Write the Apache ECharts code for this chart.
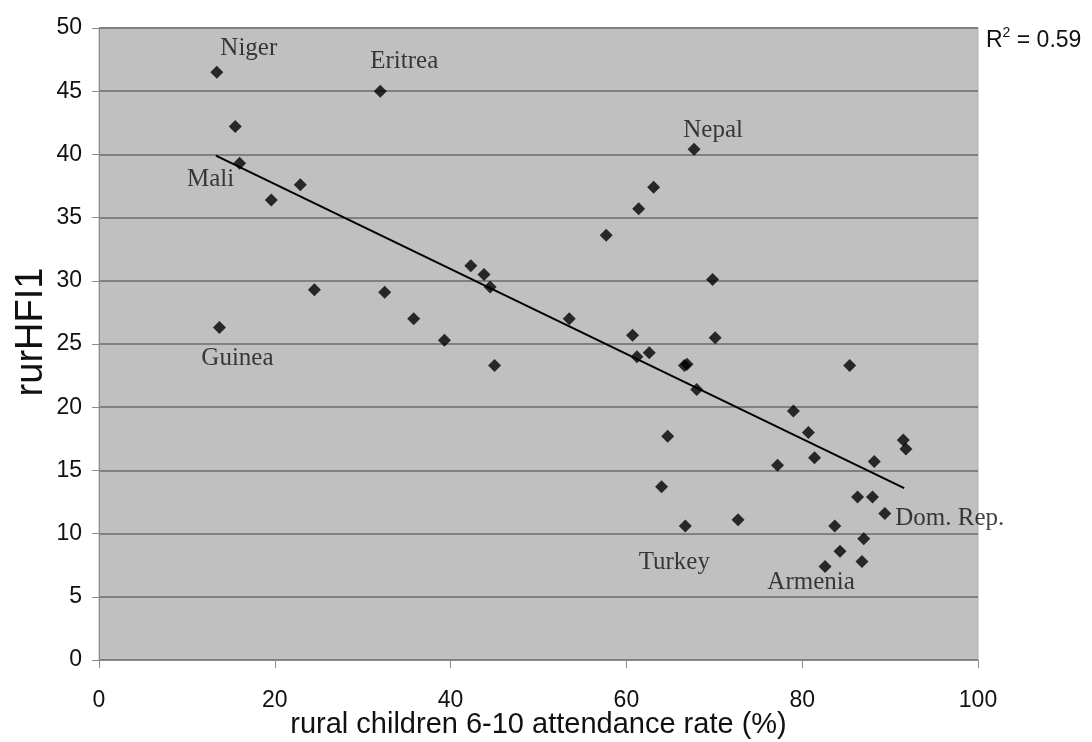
<!DOCTYPE html>
<html>
<head>
<meta charset="utf-8">
<script src="https://cdn.jsdelivr.net/npm/echarts@6/dist/echarts.min.js"></script>
<style>
html,body{margin:0;padding:0;background:#fff;}
#chart{width:1092px;height:742px;}
</style>
</head>
<body>
<div id="chart"></div>
<script>
// Data
const attendance = [13.4, 15.5, 16.0, 19.6, 22.9, 13.7, 24.5, 32.0, 32.5, 35.8, 39.3, 42.3, 43.8, 44.5, 45.0, 53.5,
  57.7, 61.4, 63.1, 67.7, 60.7, 61.2, 62.6, 66.6, 66.9, 68.0, 69.8, 70.1, 64.7, 64.0, 66.7, 72.7,
  77.2, 79.0, 80.7, 81.4, 85.4, 88.2, 91.5, 91.8, 86.3, 88.0, 89.4, 83.7, 87.0, 84.3, 82.6, 86.8];
const rurHFI1 = [46.5, 42.2, 39.3, 36.4, 37.6, 26.3, 29.3, 45.0, 29.1, 27.0, 25.3, 31.2, 30.5, 29.5, 23.3, 27.0,
  33.6, 35.7, 37.4, 40.4, 25.7, 24.0, 24.3, 23.3, 23.4, 21.4, 30.1, 25.5, 17.7, 13.7, 10.6, 11.1,
  15.4, 19.7, 18.0, 16.0, 23.3, 15.7, 17.4, 16.7, 12.9, 12.9, 11.6, 10.6, 9.6, 8.6, 7.4, 7.8];
const countries = ['Niger', '', 'Mali', '', '', 'Guinea', '', 'Eritrea', '', '', '', '', '', '', '', '',
  '', '', '', 'Nepal', '', '', '', '', '', '', '', '', '', '', 'Turkey', '',
  '', '', '', '', '', '', '', '', '', '', 'Dom. Rep.', '', '', '', 'Armenia', ''];
const trendX = [13.3, 91.6];
const trendY = [39.9, 13.6];
const xTicks = [0, 20, 40, 60, 80, 100];
const yTicks = [0, 5, 10, 15, 20, 25, 30, 35, 40, 45, 50];
const rSquared = '0.59';

// label placement (pixel offsets from the point), presentation only
const labelOffsets = {
  'Niger': [32, -24], 'Eritrea': [24, -30], 'Nepal': [19, -19], 'Mali': [-29, 16],
  'Guinea': [18, 31], 'Turkey': [-11, 36], 'Armenia': [-14, 16], 'Dom. Rep.': [65, 5]
};

const points = attendance.map((x, i) => {
  const item = { value: [x, rurHFI1[i]] };
  const name = countries[i];
  if (name) {
    item.name = name;
    item.label = {
      show: true, position: 'inside', offset: labelOffsets[name],
      formatter: name, color: '#111',
      fontFamily: 'Liberation Serif', fontSize: 25
    };
  }
  return item;
});
const trend = trendX.map((x, i) => [x, trendY[i]]);

const chart = echarts.init(document.getElementById('chart'), null, { renderer: 'canvas' });
chart.setOption({
  animation: false,
  backgroundColor: '#ffffff',
  grid: {
    left: 99, right: 114, top: 28, bottom: 82,
    containLabel: false, outerBoundsMode: 'none',
    show: true, backgroundColor: '#c0c0c0', borderColor: '#b4b4b4', borderWidth: 1
  },
  xAxis: {
    type: 'value', min: xTicks[0], max: xTicks[xTicks.length - 1], interval: 20,
    name: 'rural children 6-10 attendance rate (%)',
    nameLocation: 'middle', nameGap: 50, nameMoveOverlap: false,
    nameTextStyle: { fontFamily: 'Liberation Sans', fontSize: 29, color: '#111' },
    axisLine: { show: true, lineStyle: { color: '#8a8a8a', width: 1 } },
    axisTick: { show: true, length: 8, lineStyle: { color: '#8a8a8a' } },
    axisLabel: { margin: 29, fontFamily: 'Liberation Sans', fontSize: 23, color: '#111' },
    splitLine: { show: false }
  },
  yAxis: {
    type: 'value', min: yTicks[0], max: yTicks[yTicks.length - 1], interval: 5,
    name: 'rurHFI1',
    nameLocation: 'middle', nameGap: 48, nameMoveOverlap: false,
    nameTextStyle: { fontFamily: 'Liberation Sans', fontSize: 38, color: '#111', padding: [0, 0, 0, 24] },
    axisLine: { show: true, lineStyle: { color: '#8a8a8a', width: 1 } },
    axisTick: { show: true, length: 7, lineStyle: { color: '#8a8a8a' } },
    axisLabel: { margin: 17, fontFamily: 'Liberation Sans', fontSize: 23, color: '#111' },
    splitLine: { show: true, lineStyle: { color: '#808080', width: 2 } }
  },
  series: [
    {
      type: 'line', data: trend, symbol: 'none', silent: true,
      lineStyle: { color: '#000', width: 2 }, z: 2
    },
    {
      type: 'scatter', data: points, symbol: 'diamond', symbolSize: 13,
      itemStyle: { color: '#000' }, z: 3
    }
  ],
  graphic: [
    {
      type: 'text', left: 986, top: 26,
      style: {
        text: '{r|R}{s|2}{r| = ' + rSquared + '}',
        rich: {
          r: { fontFamily: 'Liberation Sans', fontSize: 23, fill: '#111', verticalAlign: 'bottom', lineHeight: 26 },
          s: { fontFamily: 'Liberation Sans', fontSize: 14, fill: '#111', verticalAlign: 'top', lineHeight: 26, padding: [0, 0, 10, 0] }
        }
      }
    }
  ]
});
</script>
</body>
</html>
